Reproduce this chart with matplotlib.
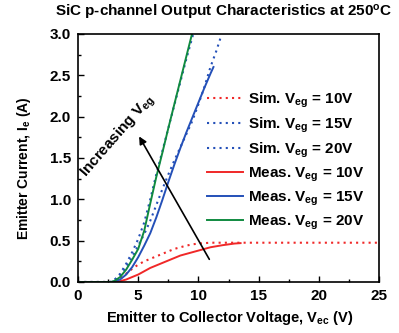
import matplotlib
matplotlib.use('Agg')
import matplotlib.pyplot as plt
from matplotlib.ticker import MultipleLocator, FormatStrFormatter

plt.rcParams['font.family'] = ['Liberation Sans', 'DejaVu Sans']
plt.rcParams['font.weight'] = 'bold'
plt.rcParams['axes.labelweight'] = 'bold'
plt.rcParams['mathtext.default'] = 'regular'

# measured curves
meas10_v = [0, 2.8, 3.5, 4.0, 4.5, 5.0, 5.5, 6.0, 6.5, 7.0, 7.5, 8.0, 8.5, 9.0, 9.5, 10.0, 11.0, 12.0, 13.0, 13.5]
meas10_i = [0, 0, 0.01, 0.03, 0.06, 0.09, 0.13, 0.17, 0.2, 0.23, 0.26, 0.29, 0.32, 0.34, 0.36, 0.38, 0.42, 0.445, 0.465, 0.47]
meas15_v = [0, 2.8, 3.5, 4.0, 4.5, 5.0, 5.5, 6.0, 6.5, 7.0, 7.5, 8.0, 8.5, 9.0, 9.5, 10.0, 10.5, 11.0, 11.25]
meas15_i = [0, 0, 0.03, 0.09, 0.18, 0.3, 0.44, 0.59, 0.78, 0.99, 1.21, 1.42, 1.62, 1.81, 1.99, 2.17, 2.35, 2.52, 2.6]
meas20_v = [0, 2.7, 3.0, 3.5, 4.0, 4.5, 5.0, 5.5, 6.0, 6.5, 7.0, 7.5, 8.0, 8.5, 9.0, 9.45]
meas20_i = [0, 0, 0.01, 0.06, 0.15, 0.27, 0.4, 0.62, 0.95, 1.27, 1.56, 1.86, 2.15, 2.44, 2.73, 2.99]

# simulated curves
sim10_v = [0, 2.8, 3.5, 4.0, 4.5, 5.0, 5.5, 6.0, 6.5, 7.0, 7.5, 8.0, 8.5, 9.0, 9.5, 10.0, 11.0, 25]
sim10_i = [0, 0, 0.04, 0.1, 0.16, 0.21, 0.25, 0.28, 0.31, 0.34, 0.37, 0.4, 0.42, 0.44, 0.455, 0.465, 0.475, 0.475]
sim15_v = [0, 2.7, 3.0, 3.5, 4.0, 4.5, 5.0, 5.5, 6.0, 6.5, 7.0, 7.5, 8.0, 8.5, 9.0, 9.5, 10.0, 10.5, 11.0, 11.5, 11.85]
sim15_i = [0, 0, 0.02, 0.08, 0.18, 0.3, 0.44, 0.58, 0.74, 0.93, 1.12, 1.3, 1.47, 1.63, 1.79, 1.95, 2.15, 2.36, 2.6, 2.8, 2.96]
sim20_v = [0, 2.7, 3.0, 3.5, 4.0, 4.5, 5.0, 5.5, 6.0, 6.5, 7.0, 7.5, 8.0, 8.5, 9.0, 9.55]
sim20_i = [0, 0, 0.02, 0.1, 0.22, 0.36, 0.52, 0.72, 1.0, 1.3, 1.58, 1.86, 2.14, 2.42, 2.7, 2.99]

red = '#f02828'
blue = '#2450b8'
green = '#108a40'
dots = (0, (1, 2))

fig = plt.figure(figsize=(3.99, 3.33), dpi=100)
ax = fig.add_axes([0.1955, 0.1532, 0.7545, 0.7448])

ax.plot(sim10_v, sim10_i, color=red, lw=1.5, ls=dots, label='Sim. V$_{eg}$ = 10V')
ax.plot(sim15_v, sim15_i, color=blue, lw=1.5, ls=dots, label='Sim. V$_{eg}$ = 15V')
ax.plot(sim20_v, sim20_i, color=blue, lw=1.5, ls=dots, label='Sim. V$_{eg}$ = 20V')
ax.plot(meas10_v, meas10_i, color=red, lw=1.4, label='Meas. V$_{eg}$ = 10V')
ax.plot(meas15_v, meas15_i, color=blue, lw=1.4, label='Meas. V$_{eg}$ = 15V')
ax.plot(meas20_v, meas20_i, color=green, lw=1.4, label='Meas. V$_{eg}$ = 20V')

ax.annotate('', xy=(4.96, 1.79), xytext=(11.02, 0.245),
            arrowprops=dict(arrowstyle='-|>', color='black', lw=1.2, mutation_scale=11))
ax.text(3.35, 1.76, 'Increasing V$_{eg}$', rotation=49, fontsize=11,
        ha='center', va='center', rotation_mode='anchor')

ax.set_xlim(0, 25)
ax.set_ylim(0, 3.0)
ax.xaxis.set_major_locator(MultipleLocator(5))
ax.xaxis.set_minor_locator(MultipleLocator(2.5))
ax.yaxis.set_major_locator(MultipleLocator(0.5))
ax.yaxis.set_minor_locator(MultipleLocator(0.25))
ax.yaxis.set_major_formatter(FormatStrFormatter('%.1f'))
ax.tick_params(which='both', direction='in', labelsize=11)
ax.tick_params(which='major', length=4, width=1, pad=5)
ax.tick_params(which='minor', length=2.5, width=1)
for s in ax.spines.values():
    s.set_linewidth(1.2)

ax.set_xlabel('Emitter to Collector Voltage, V$_{ec}$ (V)', fontsize=10.5)
ax.set_ylabel('Emitter Current, I$_e$ (A)', fontsize=10)
ax.xaxis.set_label_coords(0.505, -0.11)
ax.yaxis.set_label_coords(-0.15, 0.46)
fig.text(0.561, 0.962, 'SiC p-channel Output Characteristics at 250$^o$C',
         ha='center', va='center', fontsize=11)

ax.legend(loc='upper left', bbox_to_anchor=(0.4286, 0.772), frameon=False, fontsize=11,
          handlelength=2.35, handletextpad=0.33, labelspacing=0.37, borderpad=0,
          borderaxespad=0)

fig.savefig('out.png', dpi=100)
